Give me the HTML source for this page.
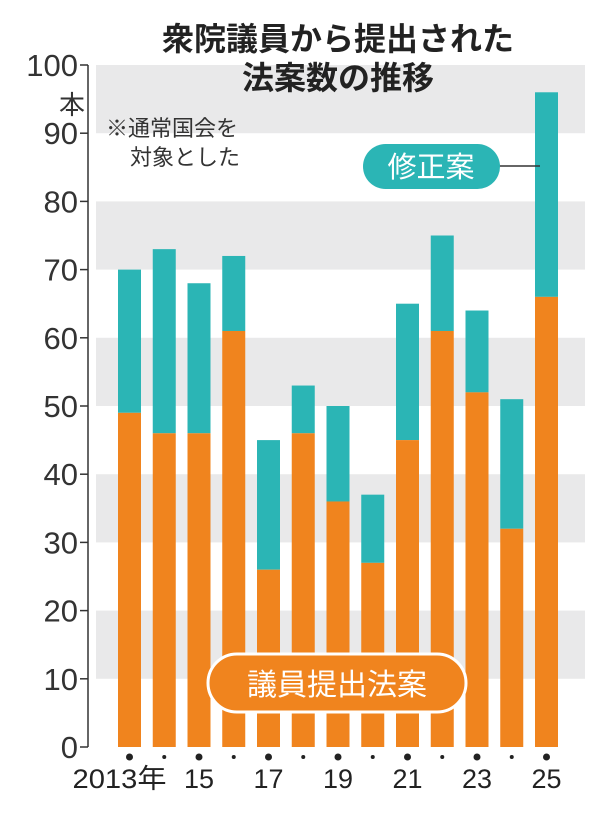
<!DOCTYPE html>
<html><head><meta charset="utf-8"><style>
body{margin:0;background:#fff}
svg text{font-family:"Liberation Sans","Noto Sans CJK JP",sans-serif}
</style></head><body>
<svg width="600" height="818" viewBox="0 0 600 818">
<g id="bands"></g>
<g id="bars"></g>
<g id="axis"></g>
<text x="338" y="50" font-size="32" font-weight="bold" fill="#222" text-anchor="middle">衆院議員から提出された</text>
<text x="338" y="89" font-size="32" font-weight="bold" fill="#222" text-anchor="middle">法案数の推移</text>
<text x="106" y="136" font-size="22" fill="#333">※通常国会を</text>
<text x="130" y="165" font-size="22" fill="#333">対象とした</text>
<text x="72" y="114" font-size="26" fill="#333" text-anchor="middle">本</text>
<line x1="498" y1="166" x2="540" y2="166" stroke="#333" stroke-width="1.5"/>
<rect x="363" y="144" width="137" height="45" rx="22.5" fill="#2bb5b5"/>
<text x="431" y="177" font-size="29" fill="#fff" text-anchor="middle">修正案</text>
<rect x="208" y="654" width="258" height="58" rx="29" fill="#f0841e" stroke="#fff" stroke-width="3"/>
<text x="337" y="695" font-size="30" fill="#fff" text-anchor="middle">議員提出法案</text>
</svg>
<script>
const years=["2013年","14","15","16","17","18","19","20","21","22","23","24","25"];
const memberBills=[49,46,46,61,26,46,36,27,45,61,52,32,66];
const totals=[70,73,68,72,45,53,50,37,65,75,64,51,96];
const yTicks=[0,10,20,30,40,50,60,70,80,90,100];
const NS="http://www.w3.org/2000/svg";
const y0=747,pxPer=6.82,x0=118,step=34.75,bw=23;
function ys(v){return y0-v*pxPer;}
function xs(i){return x0+i*step;}
function mk(tag,attrs,parent){const e=document.createElementNS(NS,tag);for(const k in attrs)e.setAttribute(k,attrs[k]);parent.appendChild(e);return e;}
const bands=document.getElementById('bands'),bars=document.getElementById('bars'),axis=document.getElementById('axis');
for(let v=10;v<100;v+=20){
 const r=mk('rect',{x:96,y:ys(v+10),width:489,height:ys(v)-ys(v+10),fill:'#e9e9ea'},bands);
 
 
}
years.forEach((yr,i)=>{
 const t=mk('rect',{x:xs(i),y:ys(totals[i]),width:bw,height:ys(memberBills[i])-ys(totals[i]),fill:'#2bb5b5'},bars);
 
 
 const o=mk('rect',{x:xs(i),y:ys(memberBills[i]),width:bw,height:y0-ys(memberBills[i]),fill:'#f0841e'},bars);
 
 
 const d=mk('circle',{cx:xs(i)+bw/2,cy:757,r:i%2==0?3.5:2,fill:'#222'},axis);
 
 
 if(i%2==0){
  const tx=mk('text',{x:xs(i)+bw/2+(i==0?-10:0),y:788,'font-size':27,fill:'#222','text-anchor':'middle','textLength':i==0?94:30,'lengthAdjust':'spacingAndGlyphs'},axis);
  tx.textContent=yr;
  
  
 }
});
const ax=mk('line',{x1:88,y1:ys(100),x2:88,y2:y0,stroke:'#333','stroke-width':1.5},axis);


yTicks.forEach(v=>{
 const l=mk('line',{x1:80,y1:ys(v),x2:88,y2:ys(v),stroke:'#333','stroke-width':1.5},axis);
 
 
 const t=mk('text',{x:78,y:ys(v)+11,'font-size':31,fill:'#333','text-anchor':'end'},axis);
 t.textContent=v;
 
 
});
</script>
</body></html>
